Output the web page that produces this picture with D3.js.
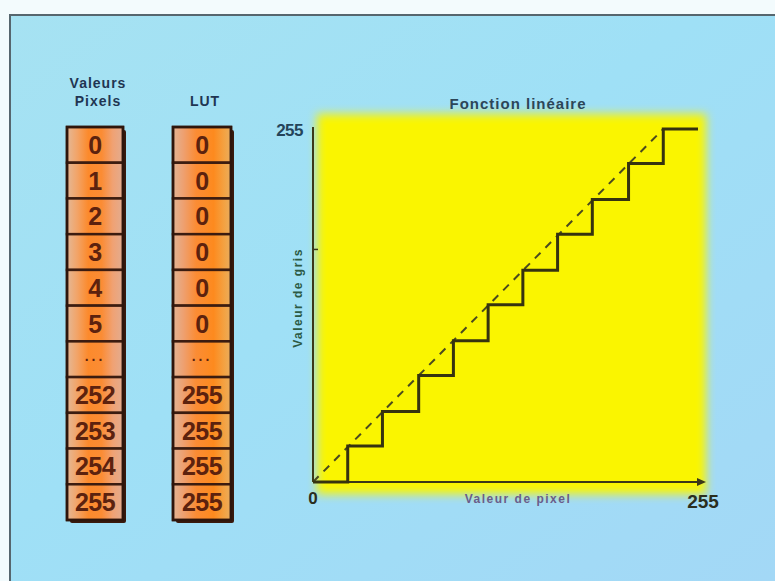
<!DOCTYPE html>
<html>
<head>
<meta charset="utf-8">
<script src="https://cdn.jsdelivr.net/npm/d3@7"></script>
<style>
  html, body { margin: 0; padding: 0; background: #f3fbfd; }
  svg { display: block; }
  text { font-family: "Liberation Sans", Arial, sans-serif; font-weight: bold; }
</style>
</head>
<body>
<svg id="chart" width="775" height="581"></svg>
<script>
// Pixel values and their look-up table entries
const pixelValues = ["0", "1", "2", "3", "4", "5", "...", "252", "253", "254", "255"];
const lutValues   = ["0", "0", "0", "0", "0", "0", "...", "255", "255", "255", "255"];

// Staircase transfer function: input break points and output levels
const stepInputs  = [0, 23, 46, 70, 93, 116, 139, 162, 185, 209, 232, 255];
const stepOutputs = [0, 26, 51, 77, 102, 128, 153, 179, 204, 230, 255, 255];

// Ideal linear reference (dashed)
const linearRef = [[0, 0], [232, 255]];

// Axis ticks
const xTickLabels = [0, 255];
const yTickLabels = [255];
const yMinorTicks = [168];

const svg = d3.select("#chart");
const defs = svg.append("defs");

// ---------- page background ----------
const bg = defs.append("linearGradient").attr("id", "bgGrad")
  .attr("x1", "0").attr("y1", "0").attr("x2", "1").attr("y2", "1");
bg.append("stop").attr("offset", "0%").attr("stop-color", "#a6e2f2");
bg.append("stop").attr("offset", "45%").attr("stop-color", "#9fe0f6");
bg.append("stop").attr("offset", "100%").attr("stop-color", "#a3d8f6");

svg.append("rect").attr("x", 10).attr("y", 15).attr("width", 765).attr("height", 566)
  .attr("fill", "url(#bgGrad)");
svg.append("line").attr("x1", 9).attr("x2", 775).attr("y1", 15).attr("y2", 15)
  .attr("stroke", "#56666e").attr("stroke-width", 2);
svg.append("line").attr("x1", 10).attr("x2", 10).attr("y1", 15).attr("y2", 581)
  .attr("stroke", "#56666e").attr("stroke-width", 2);

// ---------- LUT columns ----------
function makeCellGradient(id, stops) {
  const g = defs.append("linearGradient").attr("id", id)
    .attr("x1", "0").attr("y1", "0").attr("x2", "1").attr("y2", "0");
  stops.forEach(([o, c]) => g.append("stop").attr("offset", o).attr("stop-color", c));
}
makeCellGradient("cellPix", [["0%", "#e4b896"], ["18%", "#f2a468"], ["38%", "#fc8a2c"],
  ["62%", "#fb8c34"], ["82%", "#f0a274"], ["100%", "#e2ac90"]]);
makeCellGradient("cellLut", [["0%", "#e2b494"], ["18%", "#eea070"], ["40%", "#fb8c34"],
  ["70%", "#fd8a1e"], ["90%", "#f2a446"], ["100%", "#e8ac60"]]);

const cellBand = d3.scaleBand().domain(d3.range(pixelValues.length)).range([127, 520]);

function drawColumn(values, x0, width, gradId, title) {
  const g = svg.append("g");
  const top = cellBand.range()[0], bottom = cellBand.range()[1];
  // drop shadow on the right and bottom
  g.append("rect").attr("x", x0 + 3).attr("y", top + 3).attr("width", width)
    .attr("height", bottom - top).attr("fill", "#3a1a0e").attr("rx", 2);
  g.selectAll("rect.cell").data(values).join("rect").attr("class", "cell")
    .attr("x", x0).attr("y", (d, i) => cellBand(i))
    .attr("width", width).attr("height", cellBand.bandwidth())
    .attr("fill", `url(#${gradId})`)
    .attr("stroke", "#3b1c10").attr("stroke-width", 2.5);
  g.append("rect").attr("x", x0).attr("y", top).attr("width", width)
    .attr("height", bottom - top).attr("fill", "none")
    .attr("stroke", "#2e150b").attr("stroke-width", 2.5);
  g.selectAll("text.val").data(values).join("text").attr("class", "val")
    .attr("x", x0 + width / 2)
    .attr("y", (d, i) => cellBand(i) + cellBand.bandwidth() / 2 + (d === "..." ? 2 : 9))
    .attr("text-anchor", "middle")
    .attr("font-size", d => d === "..." ? 14 : 25)
    .attr("letter-spacing", d => d === "..." ? 3 : -0.5)
    .attr("fill", "#5c220e")
    .text(d => d);
  title.forEach((t, i) => {
    svg.append("text").attr("x", x0 + width / 2 + 3)
      .attr("y", 88 + i * 18 + (title.length === 1 ? 18 : 0))
      .attr("text-anchor", "middle").attr("font-size", 14).attr("letter-spacing", 1)
      .attr("fill", "#1f3552").text(t);
  });
}
drawColumn(pixelValues, 67, 56, "cellPix", ["Valeurs", "Pixels"]);
drawColumn(lutValues, 173, 58, "cellLut", ["LUT"]);

// ---------- transfer function plot ----------
const x = d3.scaleLinear().domain([0, 255]).range([313, 698]);
const y = d3.scaleLinear().domain([0, 255]).range([482, 129]);

const soft = defs.append("filter").attr("id", "soft")
  .attr("x", "-10%").attr("y", "-10%").attr("width", "120%").attr("height", "120%");
soft.append("feGaussianBlur").attr("stdDeviation", 5);

svg.append("rect").attr("x", 317).attr("y", 114).attr("width", 389).attr("height", 380)
  .attr("fill", "#faf500").attr("filter", "url(#soft)");

svg.append("text").attr("x", 518).attr("y", 109).attr("text-anchor", "middle")
  .attr("font-size", 15).attr("letter-spacing", 1).attr("fill", "#2c4658")
  .text("Fonction linéaire");

const ink = "#3c3818";

// axes
const xAxis = d3.axisBottom(x).tickValues([]).tickSizeOuter(0);
const yAxis = d3.axisLeft(y).tickValues([]).tickSizeOuter(0);
const gx = svg.append("g").attr("transform", `translate(0,${y(0)})`).call(xAxis);
gx.select(".domain").attr("d", `M${x(0)},0H${x(255) + 5}`)
  .attr("stroke", ink).attr("stroke-width", 2);
gx.append("path").attr("d", `M${x(255) + 8},0L${x(255) - 1},-4L${x(255) - 1},4Z`)
  .attr("fill", ink);
const gy = svg.append("g").attr("transform", `translate(${x(0)},0)`).call(yAxis);
gy.select(".domain").attr("d", `M0,${y(0)}V${y(255) - 2}`)
  .attr("stroke", ink).attr("stroke-width", 2);
gy.selectAll("line.minor").data(yMinorTicks).join("line").attr("class", "minor")
  .attr("x1", 0).attr("x2", 5).attr("y1", d => y(d)).attr("y2", d => y(d))
  .attr("stroke", ink).attr("stroke-width", 1.5);

// tick labels
svg.selectAll("text.xt").data(xTickLabels).join("text").attr("class", "xt")
  .attr("x", d => x(d) + (d === 0 ? 0 : 5)).attr("y", d => d === 0 ? 504 : 508)
  .attr("text-anchor", "middle").attr("font-size", d => d === 0 ? 17 : 19)
  .attr("fill", "#2a2e1e").text(d => d);
svg.selectAll("text.yt").data(yTickLabels).join("text").attr("class", "yt")
  .attr("x", x(0) - 10).attr("y", d => y(d) + 7)
  .attr("text-anchor", "end").attr("font-size", 17).attr("letter-spacing", -0.5)
  .attr("fill", "#24445a").text(d => d);

// axis titles
svg.append("text").attr("x", 518).attr("y", 503).attr("text-anchor", "middle")
  .attr("font-size", 12).attr("letter-spacing", 1.5).attr("fill", "#6a5c8a")
  .text("Valeur de pixel");
svg.append("text").attr("transform", `translate(302,298) rotate(-90)`)
  .attr("text-anchor", "middle").attr("font-size", 12).attr("letter-spacing", 1.5)
  .attr("fill", "#2c5a44").text("Valeur de gris");

// dashed linear reference
svg.append("path").datum(linearRef)
  .attr("d", d3.line().x(d => x(d[0])).y(d => y(d[1])))
  .attr("fill", "none").attr("stroke", "#4a4a1e").attr("stroke-width", 2)
  .attr("stroke-dasharray", "8,7");

// staircase
const stairs = stepInputs.map((v, i) => [v, stepOutputs[i]]);
svg.append("path").datum(stairs)
  .attr("d", d3.line().x(d => x(d[0])).y(d => y(d[1])).curve(d3.curveStepAfter))
  .attr("fill", "none").attr("stroke", "#36330f").attr("stroke-width", 3)
  .attr("stroke-linejoin", "miter");
</script>
</body>
</html>
